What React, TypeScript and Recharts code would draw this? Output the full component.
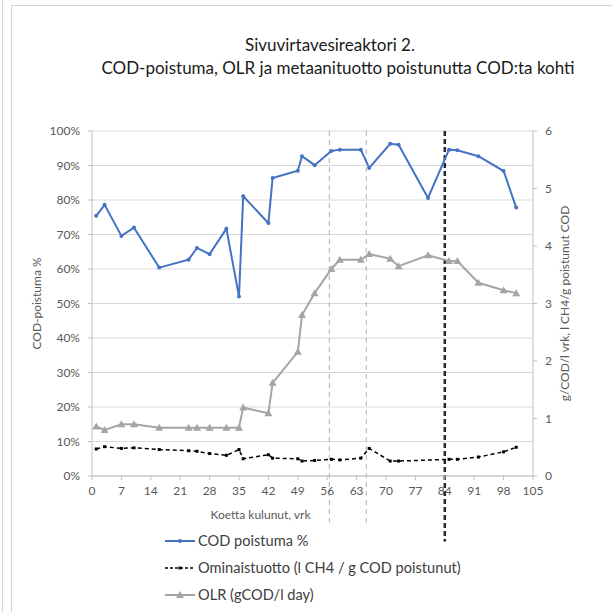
import React from "react";
import {
  ComposedChart,
  Line,
  XAxis,
  YAxis,
  CartesianGrid,
  ReferenceLine,
  Legend,
} from "recharts";

const days = [1, 3, 7, 10, 16, 23, 25, 28, 32, 35, 36, 42, 43, 49, 50, 53, 57, 59, 64, 66, 71, 73, 80, 85, 87, 92, 98, 101];
const codRemoval = [75.4, 78.6, 69.6, 72, 60.4, 62.7, 66.1, 64.3, 71.7, 52, 81.1, 73.3, 86.4, 88.5, 92.7, 90.1, 94.2, 94.6, 94.6, 89.3, 96.3, 96, 80.6, 94.6, 94.4, 92.7, 88.4, 77.8];
const specificYield = [0.47, 0.51, 0.48, 0.49, 0.46, 0.44, 0.43, 0.39, 0.36, 0.46, 0.3, 0.37, 0.31, 0.3, 0.26, 0.27, 0.29, 0.28, 0.31, 0.48, 0.26, 0.26, null, 0.29, 0.29, 0.33, 0.42, 0.5];
const olr = [0.86, 0.8, 0.9, 0.9, 0.84, 0.84, 0.84, 0.84, 0.84, 0.84, 1.19, 1.09, 1.62, 2.16, 2.8, 3.18, 3.6, 3.76, 3.76, 3.86, 3.78, 3.65, 3.84, 3.74, 3.74, 3.36, 3.23, 3.18];

const xTicks = [0, 7, 14, 21, 28, 35, 42, 49, 56, 63, 70, 77, 84, 91, 98, 105];
const leftTicks = [0, 10, 20, 30, 40, 50, 60, 70, 80, 90, 100];
const rightTicks = [0, 1, 2, 3, 4, 5, 6];

const data = days.map((d, i) => ({
  day: d,
  cod: codRemoval[i],
  omin: specificYield[i],
  olr: olr[i],
}));

const FONT = "Lato, 'Open Sans', sans-serif";
const BLUE = "#4472c4";
const GRAY = "#a5a5a5";
const TEXT = "#595959";

const Triangle = (props: any) => {
  const { cx, cy, index } = props;
  if (cx == null || cy == null) return <g key={index} />;
  return (
    <polygon
      key={index}
      points={`${cx},${cy - 4} ${cx - 4},${cy + 3} ${cx + 4},${cy + 3}`}
      fill={GRAY}
    />
  );
};

const Square = (props: any) => {
  const { cx, cy, index } = props;
  if (cx == null || cy == null) return <g key={index} />;
  return <rect key={index} x={cx - 1.5} y={cy - 1.5} width={3} height={3} fill="#000" />;
};

const BlueDot = (props: any) => {
  const { cx, cy, index } = props;
  if (cx == null || cy == null) return <g key={index} />;
  return <circle key={index} cx={cx} cy={cy} r={2} fill={BLUE} />;
};

const LegendBox = () => (
  <div style={{ fontFamily: FONT, fontSize: 14.6, color: "#404040", lineHeight: "27px" }}>
    <div style={{ display: "flex", alignItems: "center" }}>
      <svg width={30} height={10}>
        <line x1={0} y1={5} x2={30} y2={5} stroke={BLUE} strokeWidth={2} />
        <circle cx={15} cy={5} r={2} fill={BLUE} />
      </svg>
      <span style={{ marginLeft: 3 }}>COD poistuma %</span>
    </div>
    <div style={{ display: "flex", alignItems: "center" }}>
      <svg width={30} height={10}>
        <line x1={0} y1={5} x2={30} y2={5} stroke="#000" strokeWidth={1.5} strokeDasharray="3 2" />
        <rect x={13.5} y={3.5} width={3} height={3} fill="#000" />
      </svg>
      <span style={{ marginLeft: 3 }}>Ominaistuotto (l CH4 / g COD poistunut)</span>
    </div>
    <div style={{ display: "flex", alignItems: "center" }}>
      <svg width={30} height={10}>
        <line x1={0} y1={5} x2={30} y2={5} stroke={GRAY} strokeWidth={2} />
        <polygon points="15,1 11,8 19,8" fill={GRAY} />
      </svg>
      <span style={{ marginLeft: 3 }}>OLR (gCOD/l day)</span>
    </div>
  </div>
);

export default function App() {
  return (
    <div style={{ position: "absolute", left: 0, top: 0, width: 612, height: 612, background: "#fff", overflow: "hidden" }}>
      <div style={{ position: "absolute", left: 2, top: 0, width: 0, height: 612, borderLeft: "1.5px solid #d4d4d4" }} />
      <div style={{ position: "absolute", left: 11, top: 5, width: 601, height: 607, borderLeft: "1.5px solid #d4d4d4", borderTop: "1.5px solid #d4d4d4" }} />
      <div style={{ position: "absolute", left: 0, top: 34, width: 660, textAlign: "center", fontFamily: FONT, fontSize: 17, color: "#1a1a1a" }}>
        Sivuvirtavesireaktori 2.
      </div>
      <div style={{ position: "absolute", left: 0, top: 57, width: 676, textAlign: "center", fontFamily: FONT, fontSize: 17, color: "#1a1a1a" }}>
        COD-poistuma, OLR ja metaanituotto poistunutta COD:ta kohti
      </div>
      <div style={{ position: "absolute", left: 0, top: 0 }}>
        <ComposedChart
          width={612}
          height={612}
          data={data}
          margin={{ top: 131, right: 39, bottom: 106, left: 52 }}
          style={{ fontFamily: FONT }}
        >
          <CartesianGrid vertical={false} stroke="#d9d9d9" yAxisId="left" />
          <XAxis
            dataKey="day"
            type="number"
            domain={[0, 105]}
            ticks={xTicks}
            interval={0}
            height={30}
            stroke="#bfbfbf"
            tickSize={4}
            tickMargin={6}
            tick={{ fill: TEXT, fontSize: 12 }}
            label={{ value: "Koetta kulunut, vrk", position: "bottom", offset: 4, dx: -52, fill: TEXT, fontSize: 12 }}
          />
          <YAxis
            yAxisId="left"
            domain={[0, 100]}
            ticks={leftTicks}
            interval={0}
            width={40}
            stroke="#bfbfbf"
            tickSize={4}
            tickMargin={8}
            tick={{ fill: TEXT, fontSize: 12 }}
            tickFormatter={(v: number) => `${v}%`}
            label={{ value: "COD-poistuma %", angle: -90, position: "center", dx: -35, fill: TEXT, fontSize: 12 }}
          />
          <YAxis
            yAxisId="right"
            orientation="right"
            domain={[0, 6]}
            ticks={rightTicks}
            interval={0}
            width={40}
            stroke="#bfbfbf"
            tickSize={4}
            tickMargin={8}
            tick={{ fill: TEXT, fontSize: 12 }}
            label={{ value: "g/COD/l vrk, l CH4/g poistunut COD", angle: -90, position: "center", dx: 12, fill: TEXT, fontSize: 12 }}
          />
          <ReferenceLine
            yAxisId="left"
            segment={[{ x: 56.5, y: 100 }, { x: 56.5, y: -13.5 }]}
            ifOverflow="visible"
            stroke="#b0b0b0"
            strokeDasharray="5 4"
            strokeWidth={1}
          />
          <ReferenceLine
            yAxisId="left"
            segment={[{ x: 65.3, y: 100 }, { x: 65.3, y: -13.5 }]}
            ifOverflow="visible"
            stroke="#b0b0b0"
            strokeDasharray="5 4"
            strokeWidth={1}
          />
          <ReferenceLine
            yAxisId="left"
            segment={[{ x: 84, y: 100 }, { x: 84, y: -19 }]}
            ifOverflow="visible"
            stroke="#262626"
            strokeDasharray="5 3"
            strokeWidth={2.5}
          />
          <Line
            yAxisId="right"
            dataKey="olr"
            stroke={GRAY}
            strokeWidth={2}
            dot={Triangle}
            activeDot={false}
            isAnimationActive={false}
          />
          <Line
            yAxisId="right"
            dataKey="omin"
            stroke="#000"
            strokeWidth={1.5}
            strokeDasharray="4 3"
            dot={Square}
            activeDot={false}
            connectNulls
            isAnimationActive={false}
          />
          <Line
            yAxisId="left"
            dataKey="cod"
            stroke={BLUE}
            strokeWidth={2}
            dot={BlueDot}
            activeDot={false}
            isAnimationActive={false}
          />
          <Legend
            layout="vertical"
            align="center"
            verticalAlign="middle"
            content={<LegendBox />}
            wrapperStyle={{ top: 527, left: 165, width: 340 }}
          />
        </ComposedChart>
      </div>
    </div>
  );
}
